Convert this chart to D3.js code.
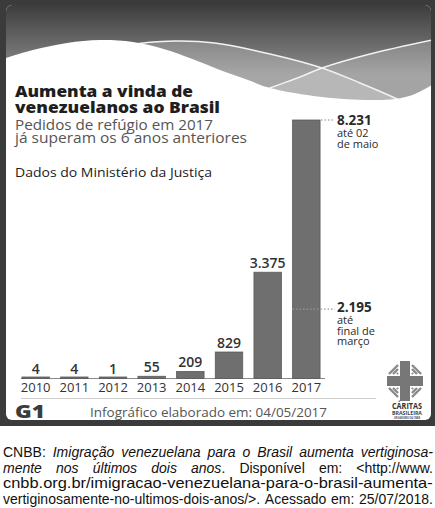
<!DOCTYPE html>
<html><head><meta charset="utf-8">
<script src="https://cdn.jsdelivr.net/npm/d3@7"></script>
<style>html,body{margin:0;padding:0;background:#fff}svg{display:block}</style>
</head><body>
<script>
const years = ["2010","2011","2012","2013","2014","2015","2016","2017"];
const values = [4,4,1,55,209,829,3375,8231];
const valueLabels = ["4","4","1","55","209","829","3.375",""];
const partialValue = 2195;
const totalNote = ["8.231","até 02","de maio"];
const partialNote = ["2.195","até","final de","março"];

const W = 435, H = 508;
const svg = d3.select("body").append("svg").attr("width",W).attr("height",H);
const defs = svg.append("defs");
const g1 = defs.append("linearGradient").attr("id","hdr")
  .attr("gradientUnits","userSpaceOnUse").attr("y1",5).attr("y2",75).attr("x1",0).attr("x2",0);
g1.append("stop").attr("offset",0).attr("stop-color","#3d3d3d");
g1.append("stop").attr("offset",1).attr("stop-color","#8e8e8e");
defs.append("clipPath").attr("id","card").append("rect").attr("x",6).attr("y",5).attr("width",425).attr("height",415).attr("rx",6);

// frame
svg.append("rect").attr("x",0).attr("y",0).attr("width",W).attr("height",426).attr("fill","#3b3b3b");
svg.append("rect").attr("x",6).attr("y",5).attr("width",425).attr("height",415).attr("rx",6).attr("fill","#fff");

const hdr = svg.append("g").attr("clip-path","url(#card)");
hdr.append("rect").attr("x",0).attr("y",0).attr("width",W).attr("height",110).attr("fill","url(#hdr)");
const curve = d3.line().curve(d3.curveCatmullRom);
const line1 = [[90,58],[130,45],[175,41],[215,43],[270,54],[322,68],[360,83],[395,98],[420,110]];
const line2 = [[235,102],[270,88],[300,77],[322,68],[370,54],[432,40]];
const bound = [[0,60],[6,58],[33,50],[67,43],[100,40],[133,42],[167,50],[200,62],[220,70],[248,80],[270,88],[322,97],[370,100],[395,99],[415,94],[432,85]];
const below = pts => curve(pts) + `L${pts[pts.length-1][0]},130L${pts[0][0]},130Z`;
hdr.append("path").attr("d",below(line1)).attr("fill","rgba(255,255,255,0.22)");
hdr.append("path").attr("d",below(line2)).attr("fill","rgba(255,255,255,0.2)");
hdr.append("path").attr("d",curve(line1)).attr("fill","none").attr("stroke","#f2f2f2").attr("stroke-width",1.4);
hdr.append("path").attr("d",curve(line2)).attr("fill","none").attr("stroke","#f2f2f2").attr("stroke-width",1.4);
hdr.append("path").attr("d",curve(bound)+"L432,140L0,140Z").attr("fill","#fff");

// titles
const F = "'Open Sans', 'DejaVu Sans', sans-serif";
function txt(s,x,y,size,weight,fill,len){
  const t = svg.append("text").attr("x",x).attr("y",y).attr("font-family",F).attr("font-size",size)
    .attr("font-weight",weight).attr("fill",fill).text(s);
  if(len) t.attr("textLength",len).attr("lengthAdjust","spacingAndGlyphs");
  return t;
}
txt("Aumenta a vinda de",15,97,16.5,800,"#1e1e1e",178);
txt("venezuelanos ao Brasil",15,113,16.5,800,"#1e1e1e",205);
txt("Pedidos de refúgio em 2017",15,130,15,400,"#555",198);
txt("já superam os 6 anos anteriores",15,143,15,400,"#555",232);
txt("Dados do Ministério da Justiça",15,177,13,400,"#222",197);

// chart
const x = d3.scaleBand().domain(years).range([20,322]).paddingInner(0.29).paddingOuter(0.05);
const y = d3.scaleLinear().domain([0,8231]).range([378,120]);
const chart = svg.append("g");
chart.append("line").attr("x1",21).attr("x2",325).attr("y1",378.5).attr("y2",378.5).attr("stroke","#8a8a8a").attr("stroke-width",1);
chart.selectAll("rect.bar").data(values).join("rect").attr("class","bar")
  .attr("x",(d,i)=>x(years[i])).attr("width",x.bandwidth())
  .attr("y",d=>Math.min(y(d),377)).attr("height",d=>378.5-Math.min(y(d),377))
  .attr("fill","#6f6f6f").attr("stroke","#5a5a5a").attr("stroke-width",0.8);
chart.selectAll("text.val").data(values).join("text").attr("class","val")
  .attr("x",(d,i)=>x(years[i])+x.bandwidth()/2).attr("y",d=>Math.min(y(d),378)-4)
  .attr("text-anchor","middle").attr("font-family",F).attr("font-size",14).attr("font-weight",600).attr("fill","#333")
  .text((d,i)=>valueLabels[i]);
const ax = chart.append("g").attr("transform","translate(0,378)").call(d3.axisBottom(x).tickSize(0).tickPadding(5));
ax.select(".domain").remove();
ax.selectAll("text").attr("font-family",F).attr("font-size",13).attr("fill","#333");

// annotations
const bx = x("2017");
chart.append("line").attr("x1",bx+x.bandwidth()+1).attr("x2",335).attr("y1",y(8231)).attr("y2",y(8231))
  .attr("stroke","#888").attr("stroke-width",1.2).attr("stroke-dasharray","1.5,2");
chart.append("line").attr("x1",bx).attr("x2",335).attr("y1",y(partialValue)).attr("y2",y(partialValue))
  .attr("stroke","#999").attr("stroke-width",1.2).attr("stroke-dasharray","1.5,2");
const ty = [125,137,148];
totalNote.forEach((s,i)=>txt(s,337,ty[i],i?11:13.5,i?400:700,"#2a2a2a"));
const py = [312,323.5,334.5,345];
partialNote.forEach((s,i)=>txt(s,337,py[i],i?11:13.5,i?400:700,"#2a2a2a"));

// footer
svg.append("line").attr("x1",21).attr("x2",376).attr("y1",398.5).attr("y2",398.5).attr("stroke","#cfcfcf");
txt("G1",15,418,17,800,"#3c3c3c",30);
txt("Infográfico elaborado em: 04/05/2017",90,417,12.5,400,"#555",237);

// Caritas logo
const lg = svg.append("g").attr("transform","translate(405,381)");
lg.append("rect").attr("x",-5).attr("y",-20).attr("width",10).attr("height",40).attr("fill","#777");
lg.append("rect").attr("x",-18).attr("y",-5).attr("width",36).attr("height",10).attr("fill","#777");
[[1,1],[1,-1],[-1,1],[-1,-1]].forEach(([sx,sy])=>{
  for(let k=0;k<3;k++){
    const o = 8+k*4;
    lg.append("line").attr("x1",sx*o).attr("y1",sy*7).attr("x2",sx*7).attr("y2",sy*o)
      .attr("stroke","#8a8a8a").attr("stroke-width",2.4);
  }
});
txt("CÁRITAS",407,409,8,700,"#333",30).attr("text-anchor","middle");
txt("BRASILEIRA",407,414.6,5,700,"#444",30).attr("text-anchor","middle");
txt("ORGANISMO DA CNBB",407,419,3.2,700,"#555",26).attr("text-anchor","middle");

// caption
const CF = "'Liberation Sans', Arial, sans-serif";
// each word: list of [text, italic] segments
const capLines = [
  [[["CNBB:",0]],[["Imigração",1]],[["venezuelana",1]],[["para",1]],[["o",1]],[["Brasil",1]],[["aumenta",1]],[["vertiginosa-",1]]],
  [[["mente",1]],[["nos",1]],[["últimos",1]],[["dois",1]],[["anos",1],[".",0]],[["Disponível",0]],[["em:",0]],[["<http://www.",0]]],
  [[["cnbb.org.br/imigracao-venezuelana-para-o-brasil-aumenta-",0]]],
  [[["vertiginosamente-no-ultimos-dois-anos/>.",0]],[["Acessado",0]],[["em:",0]],[["25/07/2018.",0]]]
];
const capY = [457,473,488.5,504];
const L = 3, R = 433;
capLines.forEach((words,li)=>{
  const gl = svg.append("g");
  const nodes = words.map(w=>{
    const t = gl.append("text").attr("y",capY[li]).attr("font-family",CF).attr("font-size",14).attr("fill","#111");
    w.forEach(seg=>t.append("tspan").attr("font-style",seg[1]?"italic":"normal").text(seg[0]));
    return t;
  });
  const widths = nodes.map(n=>n.node().getComputedTextLength());
  const sum = d3.sum(widths);
  const gaps = words.length-1;
  let gap = gaps ? (R-L-sum)/gaps : 0;
  let scale = 1;
  if(gaps && gap < 3){ gap = 3; scale = (R-L)/(sum+gap*gaps); }
  if(!gaps){ scale = (R-L)/sum; }
  let cx = L;
  nodes.forEach((n,i)=>{
    if(i>0) cx += gap;
    n.attr("x",cx);
    cx += widths[i];
  });
  if(scale!==1) gl.attr("transform",`translate(${L},0) scale(${scale},1) translate(${-L},0)`);
});
</script>
</body></html>
